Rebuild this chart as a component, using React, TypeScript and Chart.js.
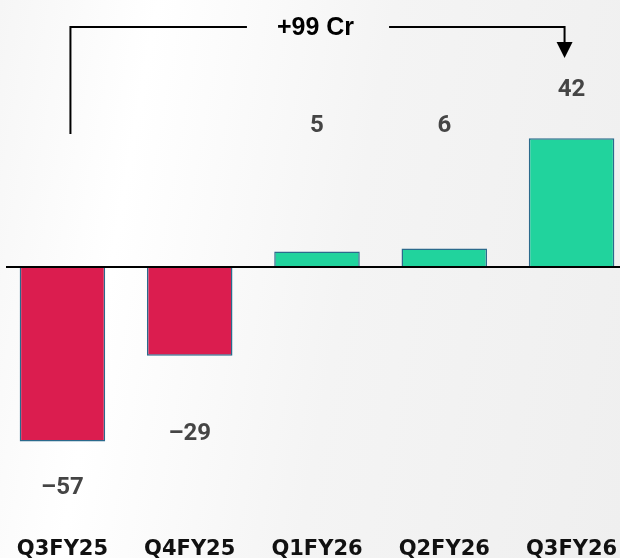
import React, { useEffect, useRef } from "react";
import { Chart, registerables } from "chart.js";

Chart.register(...registerables);

const categories = ["Q3FY25", "Q4FY25", "Q1FY26", "Q2FY26", "Q3FY26"];
const values = [-57, -29, 5, 6, 42];
const unitLabel = "Cr";

const negColor = "#DB1D4F";
const posColor = "#21D39D";
const barBorder = "#2B6A8C";

const fmt = (v: number) => (v < 0 ? "\u2013" + Math.abs(v) : String(v));

export default function App() {
  const ref = useRef<HTMLCanvasElement | null>(null);

  useEffect(() => {
    document.body.style.margin = "0";
    const overlay = {
      id: "overlay",
      afterDatasetsDraw(chart: any) {
        const ctx = chart.ctx;
        const xs = chart.scales.x;
        const ys = chart.scales.y;
        const area = chart.chartArea;
        const zeroY = ys.getPixelForValue(0);
        ctx.save();
        // zero line
        ctx.strokeStyle = "#000";
        ctx.lineWidth = 2;
        ctx.beginPath();
        ctx.moveTo(9, zeroY);
        ctx.lineTo(chart.width, zeroY);
        ctx.stroke();

        // value labels
        const meta = chart.getDatasetMeta(0);
        ctx.fillStyle = "#454545";
        ctx.font = "bold 24px Roboto";
        ctx.textAlign = "center";
        ctx.textBaseline = "middle";
        meta.data.forEach((bar: any, i: number) => {
          const v = values[i];
          let y;
          if (v >= 0) y = Math.min(bar.y - 48, zeroY - 141);
          else y = Math.max(bar.y + 47, zeroY + 167);
          ctx.fillText(fmt(v), bar.x, y);
        });

        // change bracket
        const xA = xs.getPixelForValue(0) + 8;
        const xB = xs.getPixelForValue(values.length - 1) - 7;
        const yTop = area.top + 5;
        const mid = (xA + xB) / 2;
        const diff = values[values.length - 1] - values[0];
        const txt = (diff >= 0 ? "+" : "\u2013") + Math.abs(diff) + " " + unitLabel;
        ctx.font = "bold 25px 'Liberation Sans'";
        const tw = ctx.measureText(txt).width;
        ctx.fillStyle = "#000";
        ctx.fillText(txt, mid - 2, yTop + 1);
        ctx.strokeStyle = "#000";
        ctx.lineWidth = 2;
        ctx.beginPath();
        ctx.moveTo(xA, zeroY - 133);
        ctx.lineTo(xA, yTop);
        ctx.lineTo(mid - tw / 2 - 32, yTop);
        ctx.moveTo(mid + tw / 2 + 33, yTop);
        ctx.lineTo(xB, yTop);
        ctx.lineTo(xB, yTop + 16);
        ctx.stroke();
        ctx.beginPath();
        ctx.moveTo(xB - 8, yTop + 15);
        ctx.lineTo(xB + 8, yTop + 15);
        ctx.lineTo(xB, yTop + 31);
        ctx.closePath();
        ctx.fillStyle = "#000";
        ctx.fill();
        ctx.restore();
      },
    };

    const chart = new Chart(ref.current as HTMLCanvasElement, {
      type: "bar",
      data: {
        labels: categories,
        datasets: [
          {
            data: values,
            backgroundColor: values.map((v) => (v < 0 ? negColor : posColor)),
            borderColor: barBorder,
            borderWidth: 1.5,
            barPercentage: 0.672,
            categoryPercentage: 1,
          },
        ],
      },
      options: {
        animation: false,
        responsive: false,
        maintainAspectRatio: false,
        layout: { padding: { top: 22, bottom: -21, left: 0, right: 0 } },
        plugins: { legend: { display: false }, tooltip: { enabled: false } },
        scales: {
          x: {
            grid: { display: false },
            border: { display: false },
            ticks: {
              color: "#111",
              font: { family: "'DejaVu Sans'", weight: "bold", size: 21, lineHeight: 0.9 },
              padding: 20,
              maxRotation: 0,
              autoSkip: false,
            },
          },
          y: { display: false, min: -80.1, max: 80 },
        },
      },
      plugins: [overlay],
    } as any);
    return () => chart.destroy();
  }, []);

  return (
    <div
      style={{
        position: "fixed",
        left: 0,
        top: 0,
        width: 620,
        height: 558,
        overflow: "hidden",
        background:
          "linear-gradient(100deg, #f6f6f6 0%, #ffffff 22%, #f4f4f4 55%, #efefef 100%)",
      }}
    >
      <canvas
        ref={ref}
        width={640}
        height={558}
        style={{ position: "absolute", left: -3, top: 0, width: 640, height: 558, display: "block" }}
      />
    </div>
  );
}
